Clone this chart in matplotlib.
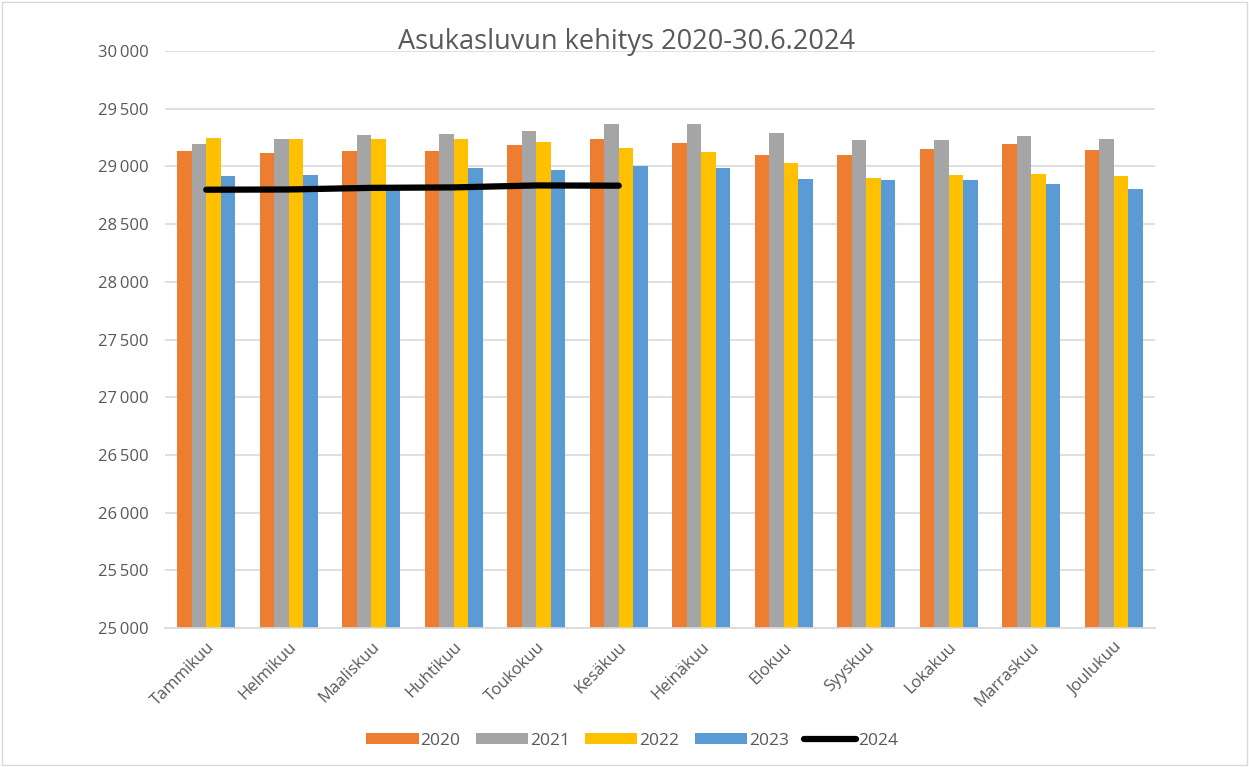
import matplotlib.pyplot as plt
import matplotlib.ticker as mticker
import numpy as np

plt.rcParams['font.family'] = ['Open Sans', 'DejaVu Sans']

months = ['Tammikuu', 'Helmikuu', 'Maaliskuu', 'Huhtikuu', 'Toukokuu', 'Kesäkuu',
          'Heinäkuu', 'Elokuu', 'Syyskuu', 'Lokakuu', 'Marraskuu', 'Joulukuu']
v2020 = [29136, 29119, 29136, 29136, 29182, 29237, 29203, 29098, 29098, 29153, 29191, 29145]
v2021 = [29191, 29234, 29272, 29281, 29309, 29364, 29364, 29289, 29225, 29225, 29263, 29237]
v2022 = [29243, 29234, 29234, 29234, 29208, 29162, 29127, 29026, 28899, 28925, 28936, 28917]
v2023 = [28917, 28925, 28815, 28989, 28971, 29000, 28989, 28890, 28882, 28882, 28844, 28807]
v2024 = [28798, 28800, 28814, 28818, 28835, 28833]

series = [('2020', v2020, '#ED7D31'), ('2021', v2021, '#A5A5A5'),
          ('2022', v2022, '#FFC000'), ('2023', v2023, '#5B9BD5')]

fig = plt.figure(figsize=(12.49, 7.67), dpi=100)
ax = fig.add_axes([165/1249, 1 - 628/767, 990/1249, 577/767])

x = np.arange(len(months))
w = 0.176
handles = []
for i, (lab, vals, col) in enumerate(series):
    handles.append(ax.bar(x + (i - 1.5) * w, vals, width=w, color=col, label=lab, zorder=2))
line, = ax.plot(x[:len(v2024)], v2024, color='black', lw=4.5, solid_capstyle='round',
                label='2024', zorder=3)
handles.append(line)

ax.set_xlim(-0.5, len(months) - 0.5)
ax.set_ylim(25000, 30000)
ax.yaxis.set_major_locator(mticker.MultipleLocator(500))
ax.yaxis.set_major_formatter(mticker.FuncFormatter(lambda v, p: f'{int(v):,}'.replace(',', '\u2009')))
ax.grid(axis='y', color='#D9D9D9', lw=1.2, zorder=0)
for s in ['top', 'right', 'left']:
    ax.spines[s].set_visible(False)
ax.spines['bottom'].set_color('#D9D9D9')
ax.spines['bottom'].set_linewidth(1.2)
ax.tick_params(axis='both', length=0, colors='#595959', labelsize=12)
ax.tick_params(axis='y', pad=12)
ax.set_xticks(x)
ax.set_xticklabels(months, rotation=45, ha='right', rotation_mode='anchor')
ax.tick_params(axis='x', pad=8)

fig.text(0.502, 1 - 42/767, 'Asukasluvun kehitys 2020-30.6.2024', ha='center', va='center',
         fontsize=19.5, color='#595959')

ax.legend(handles=handles, loc='center', bbox_to_anchor=(0.472, -0.195), ncol=5, frameon=False,
          fontsize=12.5, labelcolor='#595959', handlelength=3.0, handleheight=0.6,
          handletextpad=0.1, columnspacing=0.9)

fig.patches.append(plt.Rectangle((0.002, 0.002), 0.996, 0.996, transform=fig.transFigure,
                                 fill=False, edgecolor='#D9D9D9', lw=1))
fig.savefig('out.png', dpi=100)
